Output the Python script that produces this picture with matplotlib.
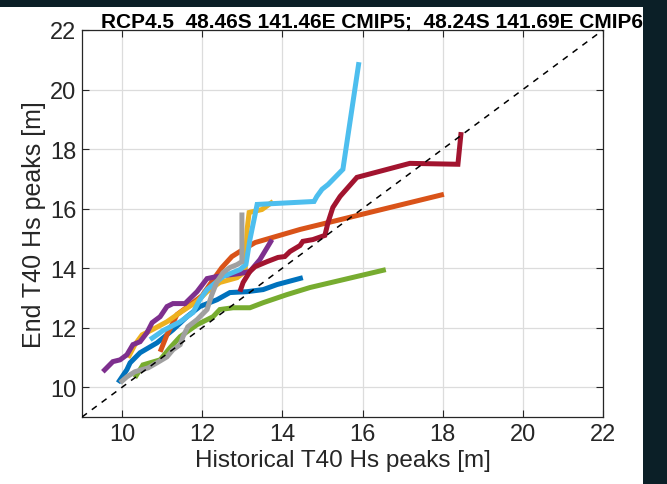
import matplotlib
matplotlib.use('Agg')
import matplotlib.pyplot as plt
from matplotlib.patches import Rectangle

# ── data (historical vs end-of-century T40 Hs peaks) ──
blue_x = [9.90, 10.12, 10.20, 10.45, 10.87, 11.27, 11.62, 11.94, 12.37, 12.69, 13.12, 13.52, 13.87, 14.51]
blue_y = [10.15, 10.59, 10.82, 11.16, 11.49, 11.93, 12.37, 12.71, 12.94, 13.18, 13.21, 13.28, 13.45, 13.68]

orange_x = [10.95, 11.12, 11.37, 11.70, 12.00, 12.24, 12.49, 12.74, 12.94, 13.32, 14.44, 18.03]
orange_y = [11.19, 11.76, 12.44, 12.77, 13.08, 13.55, 14.02, 14.39, 14.56, 14.86, 15.30, 16.48]

yellow_x = [10.15, 10.32, 10.50, 10.75, 11.12, 11.45, 11.87, 12.12, 12.44, 12.87, 13.07, 13.12, 13.17, 13.49, 13.77]
yellow_y = [10.99, 11.43, 11.76, 11.93, 12.20, 12.51, 12.88, 13.21, 13.52, 13.68, 13.89, 15.30, 15.87, 15.97, 16.24]

purple_x = [9.52, 9.77, 9.95, 10.12, 10.27, 10.45, 10.62, 10.75, 10.95, 11.12, 11.27, 11.57, 11.87, 12.12,
            12.37, 12.94, 13.19, 13.44, 13.74]
purple_y = [10.52, 10.86, 10.92, 11.09, 11.43, 11.53, 11.83, 12.17, 12.37, 12.71, 12.81, 12.81, 13.21, 13.65,
            13.72, 13.82, 13.89, 14.29, 14.96]

green_x = [10.32, 10.52, 10.95, 11.20, 11.45, 11.87, 12.27, 12.44, 12.77, 13.19, 13.52, 14.11, 14.69, 16.58]
green_y = [10.32, 10.75, 10.92, 11.33, 11.70, 12.10, 12.37, 12.61, 12.67, 12.67, 12.84, 13.11, 13.35, 13.95]

ltblue_x = [10.70, 11.02, 11.45, 11.77, 11.94, 12.12, 12.52, 12.94, 13.09, 13.19, 13.37, 14.79, 14.86, 14.99,
            15.14, 15.51, 15.91]
ltblue_y = [11.60, 11.90, 12.20, 12.51, 12.94, 13.28, 13.72, 13.95, 14.12, 14.96, 16.14, 16.24, 16.41, 16.65,
            16.81, 17.32, 20.92]

red_x = [12.94, 13.02, 13.19, 13.32, 13.62, 13.89, 14.06, 14.19, 14.44, 14.51, 14.76, 15.06, 15.14, 15.26,
         15.44, 15.86, 17.18, 18.38, 18.46]
red_y = [13.21, 13.52, 13.89, 14.05, 14.22, 14.36, 14.39, 14.56, 14.76, 14.90, 14.96, 15.10, 15.54, 16.04,
         16.41, 17.05, 17.52, 17.49, 18.57]

gray_x = [9.95, 10.12, 10.32, 10.65, 10.87, 11.12, 11.27, 11.45, 11.52, 11.64, 11.87, 12.12, 12.24, 12.37,
          12.52, 12.69, 12.87, 12.99, 12.99]
gray_y = [10.15, 10.35, 10.52, 10.65, 10.82, 11.02, 11.26, 11.43, 11.70, 12.03, 12.27, 12.61, 13.11, 13.55,
          13.85, 14.02, 14.12, 14.22, 15.87]

ticks = [10, 12, 14, 16, 18, 20, 22]

# MATLAB default line colours (+ gray)
series = [
    (blue_x, blue_y, '#0072BD'),
    (orange_x, orange_y, '#D95319'),
    (yellow_x, yellow_y, '#EDB120'),
    (purple_x, purple_y, '#7E2F8E'),
    (green_x, green_y, '#77AC30'),
    (ltblue_x, ltblue_y, '#4DBEEE'),
    (red_x, red_y, '#A2142F'),
    (gray_x, gray_y, '#A0A0A0'),
]

plt.rcParams['font.family'] = ['Liberation Sans', 'DejaVu Sans']

W, H = 667, 485
fig = plt.figure(figsize=(W / 100, H / 100), dpi=100)
fig.patch.set_facecolor('white')
ax = fig.add_axes([82 / W, 1 - 418 / H, (603 - 82) / W, (418 - 31) / H])

for x, y, c in series:
    ax.plot(x, y, color=c, lw=3.6, solid_joinstyle='miter', solid_capstyle='butt')

ax.plot([9, 22], [9, 22], 'k--', lw=1.1, dashes=(4, 4), zorder=5)

ax.set_xlim(9, 22)
ax.set_ylim(9, 22)
ax.set_xticks(ticks)
ax.set_yticks(ticks)
ax.grid(True, color='#dcdcdc', lw=0.9)
ax.set_axisbelow(True)
ax.tick_params(direction='in', length=5, width=0.8, top=True, right=True,
               labelsize=17, colors='#262626', pad=4)
for sp in ax.spines.values():
    sp.set_color('#262626')
    sp.set_linewidth(0.9)

ax.set_xlabel('Historical T40 Hs peaks [m]', fontsize=17.5, color='#262626', labelpad=3)
ax.set_ylabel('End T40 Hs peaks [m]', fontsize=18, color='#262626', labelpad=3)

fig.text(101 / W, 1 - 28 / H, 'RCP4.5  48.46S 141.46E CMIP5;  48.24S 141.69E CMIP6',
         fontsize=15, fontweight='bold', color='black', ha='left', va='baseline')

# dark screenshot frame at top and right
fig.add_artist(Rectangle((0, 1 - 8 / H), 1, 8 / H, transform=fig.transFigure,
                         facecolor='#0b1f27', edgecolor='none', zorder=20))
fig.add_artist(Rectangle((643 / W, 0), 1 - 643 / W, 1, transform=fig.transFigure,
                         facecolor='#0b1f27', edgecolor='none', zorder=20))

fig.savefig('out.png', dpi=100)
